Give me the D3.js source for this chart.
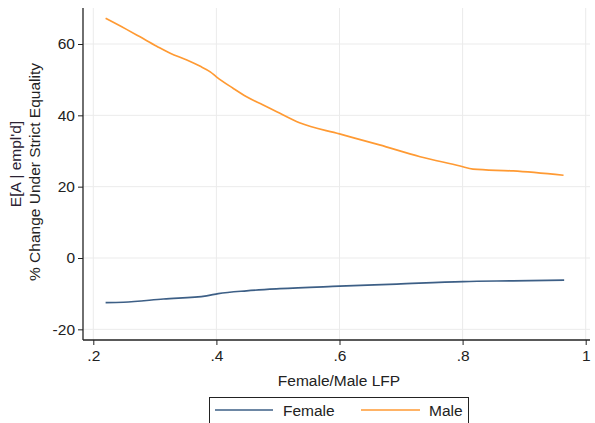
<!DOCTYPE html>
<html>
<head>
<meta charset="utf-8">
<script src="https://cdn.jsdelivr.net/npm/d3@7"></script>
<style>
  html, body { margin: 0; padding: 0; background: #fff; }
  svg { display: block; font-family: "Liberation Sans", Arial, sans-serif; }
</style>
</head>
<body>
<svg id="chart" width="595" height="423"></svg>
<script>
// Female/Male labour-force participation ratio
const lfpFemale = [0.220, 0.249, 0.314, 0.384, 0.403, 0.449, 0.503, 0.600, 0.693, 0.801, 0.882, 0.965];
const changeFemale = [-12.5, -12.4, -11.5, -10.6, -10.0, -9.2, -8.6, -7.9, -7.3, -6.6, -6.4, -6.2];

const lfpMale = [0.220, 0.254, 0.276, 0.303, 0.325, 0.352, 0.373, 0.390, 0.400, 0.427, 0.449, 0.476, 0.498, 0.535, 0.600, 0.665, 0.731, 0.796, 0.817, 0.882, 0.964];
const changeMale = [67.2, 64.1, 62.0, 59.4, 57.4, 55.5, 53.8, 52.2, 50.8, 47.6, 45.2, 42.9, 41.0, 37.9, 34.8, 31.7, 28.4, 25.8, 24.9, 24.4, 23.2];

const xTicks = [0.2, 0.4, 0.6, 0.8, 1.0];
const xTickLabels = [".2", ".4", ".6", ".8", "1"];
const yTicks = [-20, 0, 20, 40, 60];
const yTickLabels = ["-20", "0", "20", "40", "60"];

const seriesNames = ["Female", "Male"];
const seriesColors = ["#3d5f86", "#ff9a33"];

const svg = d3.select("#chart");
const plot = { left: 83, right: 590, top: 8, bottom: 340 };
const fs = 15.5;

const x = d3.scaleLinear().domain([0.2, 1.0]).range([93.3, 585.7]);
const y = d3.scaleLinear().domain([0, 60]).range([258, 44]);

// grid
const grid = svg.append("g");
grid.selectAll("line.gx").data(xTicks).enter().append("line")
  .attr("x1", d => x(d)).attr("x2", d => x(d))
  .attr("y1", plot.top).attr("y2", plot.bottom)
  .attr("stroke", "#ebebeb").attr("stroke-width", 1);
grid.selectAll("line.gy").data(yTicks).enter().append("line")
  .attr("x1", plot.left).attr("x2", plot.right)
  .attr("y1", d => y(d)).attr("y2", d => y(d))
  .attr("stroke", "#ebebeb").attr("stroke-width", 1);

// axes
const yAxis = d3.axisLeft(y).tickValues(yTicks)
  .tickFormat((d, i) => yTickLabels[i]).tickSize(5).tickSizeOuter(0).tickPadding(3);
const yg = svg.append("g").attr("transform", `translate(${plot.left},0)`).call(yAxis);
yg.select(".domain").remove();
yg.append("line").attr("x1", 0).attr("x2", 0).attr("y1", plot.top).attr("y2", plot.bottom)
  .attr("stroke", "#222").attr("stroke-width", 1.3);

const xAxis = d3.axisBottom(x).tickValues(xTicks)
  .tickFormat((d, i) => xTickLabels[i]).tickSize(5).tickSizeOuter(0).tickPadding(5);
const xg = svg.append("g").attr("transform", `translate(0,${plot.bottom})`).call(xAxis);
xg.select(".domain").remove();
xg.append("line").attr("x1", plot.left).attr("x2", plot.right).attr("y1", 0).attr("y2", 0)
  .attr("stroke", "#222").attr("stroke-width", 1.3);

svg.selectAll(".tick line").attr("stroke", "#222").attr("stroke-width", 1);
svg.selectAll(".tick text").attr("font-size", fs).attr("fill", "#222")
  .attr("font-family", "Liberation Sans, Arial, sans-serif");

// axis titles
svg.append("text").attr("x", 339).attr("y", 386).attr("text-anchor", "middle")
  .attr("font-size", fs).attr("fill", "#222").text("Female/Male LFP");

svg.append("text").attr("transform", "translate(21,164) rotate(-90)")
  .attr("text-anchor", "middle").attr("font-size", fs).attr("fill", "#2b2233")
  .text("E[A | empl'd]");
svg.append("text").attr("transform", "translate(40,172) rotate(-90)")
  .attr("text-anchor", "middle").attr("font-size", fs).attr("fill", "#222")
  .text("% Change Under Strict Equality");

// lines
const line = d3.line().x(d => x(d[0])).y(d => y(d[1])).curve(d3.curveMonotoneX);
const femaleData = d3.zip(lfpFemale, changeFemale);
const maleData = d3.zip(lfpMale, changeMale);
svg.append("path").datum(femaleData).attr("d", line)
  .attr("fill", "none").attr("stroke", seriesColors[0]).attr("stroke-width", 1.7);
svg.append("path").datum(maleData).attr("d", line)
  .attr("fill", "none").attr("stroke", seriesColors[1]).attr("stroke-width", 1.7);

// legend
const lg = svg.append("g");
lg.append("rect").attr("x", 209.5).attr("y", 397.5).attr("width", 259).attr("height", 40)
  .attr("fill", "#fff").attr("stroke", "#222").attr("stroke-width", 1);
const legendItems = [
  { name: seriesNames[0], color: seriesColors[0], x1: 215, x2: 273, tx: 283 },
  { name: seriesNames[1], color: seriesColors[1], x1: 361, x2: 420, tx: 429 }
];
legendItems.forEach(it => {
  lg.append("line").attr("x1", it.x1).attr("x2", it.x2).attr("y1", 410).attr("y2", 410)
    .attr("stroke", it.color).attr("stroke-width", 1.7);
  lg.append("text").attr("x", it.tx).attr("y", 415.5).attr("font-size", fs)
    .attr("fill", "#222").text(it.name);
});
</script>
</body>
</html>
